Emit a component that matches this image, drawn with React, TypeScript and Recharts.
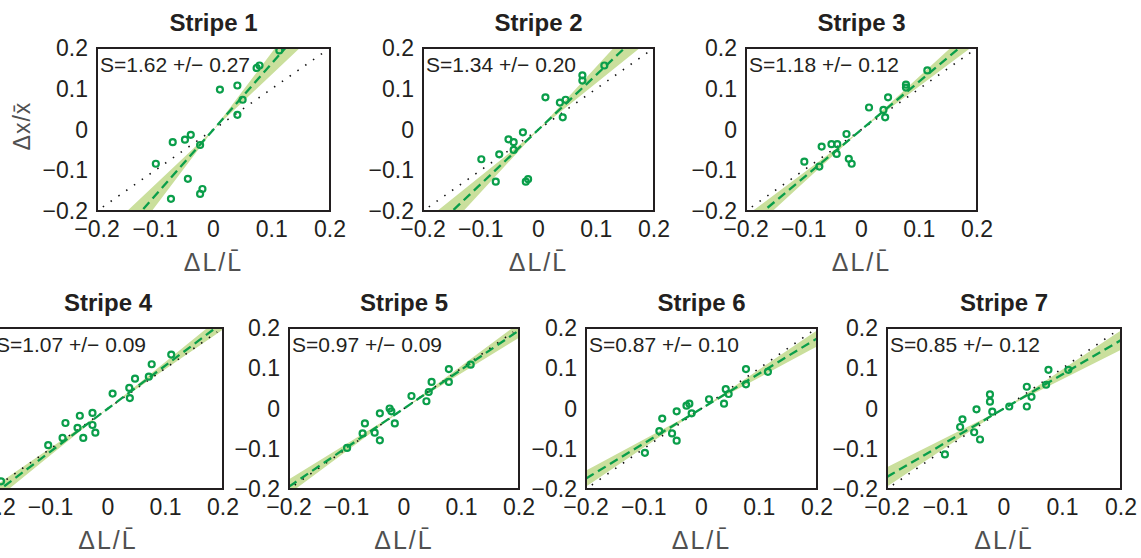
import React from 'react';
import { ComposedChart, Area, Line, Scatter, XAxis, YAxis } from 'recharts';

const titles = ['Stripe 1', 'Stripe 2', 'Stripe 3', 'Stripe 4', 'Stripe 5', 'Stripe 6', 'Stripe 7'];
const slopes = [1.62, 1.34, 1.18, 1.07, 0.97, 0.87, 0.85];
const slopeErr = [0.27, 0.2, 0.12, 0.09, 0.09, 0.1, 0.12];
const ticks = [-0.2, -0.1, 0, 0.1, 0.2];
const tickLabels = ['\u22120.2', '\u22120.1', '0', '0.1', '0.2'];
const lineXs = [-0.2, -0.19, 0, 0.19, 0.2];
const identityXs = [-0.19, 0, 0.19];

const s1x = [0.113, 0.074, 0.079, 0.011, 0.041, 0.05, 0.041, -0.07, -0.049, -0.039, -0.023, -0.099, -0.044, -0.019, -0.023, -0.073];
const s1y = [0.194, 0.151, 0.157, 0.098, 0.108, 0.073, 0.036, -0.031, -0.025, -0.013, -0.038, -0.084, -0.121, -0.146, -0.158, -0.17];
const s2x = [0.114, 0.076, 0.076, 0.012, 0.037, 0.047, 0.042, -0.027, -0.052, -0.043, -0.043, -0.068, -0.099, -0.074, -0.022, -0.018];
const s2y = [0.157, 0.133, 0.12, 0.079, 0.066, 0.073, 0.03, -0.007, -0.024, -0.031, -0.05, -0.061, -0.073, -0.128, -0.128, -0.122];
const s3x = [0.114, 0.077, 0.077, 0.046, 0.013, 0.038, 0.041, -0.026, -0.052, -0.042, -0.069, -0.043, -0.022, -0.017, -0.099, -0.073];
const s3y = [0.145, 0.11, 0.103, 0.079, 0.054, 0.048, 0.03, -0.011, -0.036, -0.036, -0.042, -0.06, -0.072, -0.084, -0.079, -0.091];
const s4x = [0.11, 0.076, 0.071, 0.047, 0.037, 0.038, 0.008, -0.027, -0.049, -0.074, -0.053, -0.027, -0.022, -0.043, -0.079, -0.104, -0.186];
const s4y = [0.134, 0.11, 0.079, 0.074, 0.051, 0.026, 0.037, -0.011, -0.018, -0.036, -0.048, -0.041, -0.06, -0.073, -0.073, -0.091, -0.181];
const s5x = [0.116, 0.078, 0.078, 0.048, 0.043, 0.039, 0.013, -0.025, -0.022, -0.042, -0.016, -0.068, -0.072, -0.051, -0.042, -0.099];
const s5y = [0.109, 0.098, 0.066, 0.066, 0.041, 0.018, 0.031, 0.0, -0.007, -0.012, -0.037, -0.037, -0.062, -0.06, -0.079, -0.098];
const s6x = [0.077, 0.115, 0.077, 0.042, 0.047, 0.039, 0.013, -0.021, -0.026, -0.043, -0.017, -0.068, -0.073, -0.051, -0.043, -0.098];
const s6y = [0.098, 0.091, 0.06, 0.048, 0.036, 0.012, 0.023, 0.012, 0.007, -0.007, -0.012, -0.025, -0.056, -0.062, -0.08, -0.11];
const s7x = [0.076, 0.11, 0.072, 0.039, 0.047, 0.039, 0.009, -0.024, -0.024, -0.02, -0.047, -0.071, -0.075, -0.051, -0.041, -0.101];
const s7y = [0.096, 0.096, 0.059, 0.054, 0.029, 0.005, 0.005, 0.035, 0.017, -0.008, -0.002, -0.027, -0.046, -0.059, -0.077, -0.114];

const pointsX = [s1x, s2x, s3x, s4x, s5x, s6x, s7x];
const pointsY = [s1y, s2y, s3y, s4y, s5y, s6y, s7y];

// plot box of each panel on the page: left, top, width, height
const boxes = [
  [97, 48, 233, 163],
  [423, 48, 231, 163],
  [746, 48, 231, 163],
  [-7, 328, 230, 161],
  [289, 328, 230, 161],
  [586, 328, 231, 161],
  [887, 328, 234, 161],
];

const FONT = '"Liberation Sans", Arial, sans-serif';
const INK = '#231f20';
const GREEN = '#0a9e4a';
const BAND = '#cadf9c';

const fmt = (v: number) => tickLabels[ticks.findIndex((t) => Math.abs(t - v) < 1e-9)] ?? String(v);

const Dot = (p: any) => (
  <circle cx={p.cx} cy={p.cy} r={3} fill="none" stroke={GREEN} strokeWidth={2.2} />
);

const Panel = ({ i }: { i: number }) => {
  const [left, top, w, h] = boxes[i];
  const S = slopes[i];
  const e = slopeErr[i];
  const rows = lineXs.map((x) => ({
    x,
    fit: S * x,
    band: [(S - e) * x, (S + e) * x],
    ident: identityXs.includes(x) ? x : undefined,
  }));
  const pts = pointsX[i].map((x, k) => ({ x, y: pointsY[i][k] }));
  const ml = 70;
  const mr = 35;
  const mt = 20;
  const mb = 45;
  return (
    <>
      <div style={{ position: 'absolute', left: left - ml, top: top - mt }}>
        <ComposedChart
          width={w + ml + mr}
          height={h + mt + mb}
          data={rows}
          margin={{ top: mt, right: mr, bottom: 0, left: 0 }}
        >
          <XAxis
            dataKey="x"
            type="number"
            domain={[-0.2, 0.2]}
            ticks={ticks}
            tickFormatter={fmt}
            allowDataOverflow
            axisLine={false}
            tickLine={false}
            tickSize={0}
            tickMargin={10}
            height={mb}
            interval={0}
            tick={{ fontSize: 23, fill: INK, fontFamily: FONT }}
          />
          <YAxis
            type="number"
            domain={[-0.2, 0.2]}
            ticks={ticks}
            tickFormatter={fmt}
            allowDataOverflow
            axisLine={false}
            tickLine={false}
            tickSize={0}
            tickMargin={9}
            width={ml}
            interval={0}
            tick={{ fontSize: 23, fill: INK, fontFamily: FONT }}
          />
          <Area dataKey="band" type="linear" fill={BAND} fillOpacity={1} stroke="none" isAnimationActive={false} />
          <Line dataKey="ident" type="linear" stroke="#111" strokeWidth={1.6} strokeDasharray="1.5 8" dot={false} isAnimationActive={false} />
          <Line dataKey="fit" type="linear" stroke={GREEN} strokeWidth={2.3} strokeDasharray="9 5" dot={false} isAnimationActive={false} />
          <Scatter data={pts} dataKey="y" shape={Dot} isAnimationActive={false} />
        </ComposedChart>
      </div>
      <div
        style={{
          position: 'absolute',
          left: left - 1,
          top: top - 1,
          width: w + 2,
          height: h + 2,
          boxSizing: 'border-box',
          border: `2px solid ${INK}`,
          pointerEvents: 'none',
        }}
      />
      <div
        style={{
          position: 'absolute',
          left: left + 3,
          top: top + 6,
          fontSize: 21,
          lineHeight: '21px',
          fontFamily: FONT,
          color: INK,
          whiteSpace: 'nowrap',
        }}
      >
        {`S=${S.toFixed(2)} +/\u2212 ${e.toFixed(2)}`}
      </div>
      <div
        style={{
          position: 'absolute',
          left: left + w / 2 - 100,
          width: 200,
          top: top - 37,
          textAlign: 'center',
          fontSize: 24,
          lineHeight: '24px',
          fontWeight: 'bold',
          fontFamily: FONT,
          color: INK,
        }}
      >
        {titles[i]}
      </div>
      <div
        style={{
          position: 'absolute',
          left: left + w / 2 - 100,
          width: 200,
          top: top + h + 39,
          textAlign: 'center',
          fontSize: 25,
          lineHeight: '25px',
          letterSpacing: 2,
          fontFamily: FONT,
          color: '#505050',
        }}
      >
        {'\u0394L/L\u0304'}
      </div>
    </>
  );
};

export default function App() {
  return (
    <div
      style={{
        position: 'absolute',
        left: 0,
        top: 0,
        width: 1141,
        height: 558,
        overflow: 'hidden',
        background: '#fff',
      }}
    >
      {titles.map((_, i) => (
        <Panel key={i} i={i} />
      ))}
      <div
        style={{
          position: 'absolute',
          left: 22,
          top: 126,
          transform: 'translate(-50%, -50%) rotate(-90deg)',
          fontSize: 23,
          lineHeight: '23px',
          letterSpacing: 1,
          fontFamily: FONT,
          color: '#505050',
          whiteSpace: 'nowrap',
        }}
      >
        {'\u0394x/x\u0304'}
      </div>
    </div>
  );
}
